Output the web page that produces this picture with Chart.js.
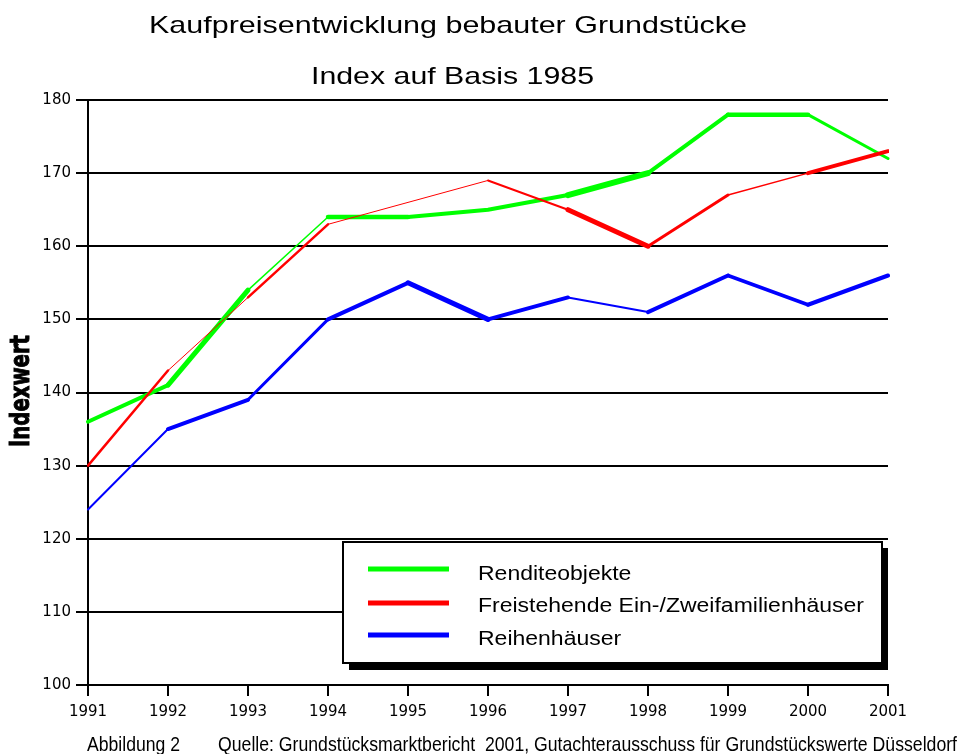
<!DOCTYPE html>
<html>
<head>
<meta charset="utf-8">
<script src="https://cdn.jsdelivr.net/npm/chart.js@4/dist/chart.umd.min.js"></script>
<style>
  html, body { margin: 0; padding: 0; background: #fff; }
  #wrap { width: 964px; height: 754px; position: relative; }
</style>
</head>
<body>
<div id="wrap"><canvas id="myChart"></canvas></div>
<script>
var years = ['1991','1992','1993','1994','1995','1996','1997','1998','1999','2000','2001'];
var rendite = [136, 141, 154, 164, 164, 165, 167, 170, 178, 178, 172];
var freistehend = [130, 143, 153, 163, 166, 169, 165, 160, 167, 170, 173];
var reihen = [124, 135, 139, 150, 155, 150, 153, 151, 156, 152, 156];
var seriesNames = ['Renditeobjekte', 'Freistehende Ein-/Zweifamilienhäuser', 'Reihenhäuser'];
var seriesColors = ['#00ff00', '#ff0000', '#0000ff'];

// line thickness of each segment (the original drawing is uneven)
var widthsGreen = [4, 5, 1.5, 4.5, 4, 4, 6, 4, 4.5, 3];
var widthsRed = [2.5, 1, 2.5, 1, 1, 2, 5, 3, 1.5, 4];
var widthsBlue = [2, 4, 3, 4, 5, 4, 2, 4, 3.5, 4];

function segWidth(arr) {
  return function (ctx) { return arr[ctx.p0DataIndex]; };
}

function fitText(ctx, text, x, y, w) {
  var m = ctx.measureText(text).width;
  ctx.save();
  ctx.translate(x, y);
  ctx.scale(w / m, 1);
  ctx.textAlign = 'left';
  ctx.fillText(text, 0, 0);
  ctx.restore();
}

var decor = {
  id: 'decor',
  afterDraw: function (chart) {
    var ctx = chart.ctx;
    ctx.save();
    ctx.fillStyle = '#000';
    ctx.textBaseline = 'alphabetic';

    // titles
    ctx.font = '24px "Liberation Sans", Arial, sans-serif';
    fitText(ctx, 'Kaufpreisentwicklung bebauter Grundstücke', 149, 33, 598);
    fitText(ctx, 'Index auf Basis 1985', 311, 84, 283);

    // y axis title
    ctx.save();
    ctx.translate(29, 447);
    ctx.rotate(-Math.PI / 2);
    ctx.font = 'bold 27px "DejaVu Sans", sans-serif';
    ctx.lineWidth = 1;
    ctx.strokeStyle = '#000';
    var t = 'Indexwert';
    var m = ctx.measureText(t).width;
    ctx.scale(112 / m, 1);
    ctx.fillText(t, 0, 0);
    ctx.strokeText(t, 0, 0);
    ctx.restore();

    // legend box with shadow
    ctx.fillStyle = '#000';
    ctx.fillRect(349, 548, 539, 122);
    ctx.fillStyle = '#fff';
    ctx.fillRect(343, 542, 539, 121);
    ctx.lineWidth = 2;
    ctx.strokeStyle = '#000';
    ctx.strokeRect(343, 542, 539, 121);

    ctx.font = '20px "Liberation Sans", Arial, sans-serif';
    var sc = 386 / ctx.measureText(seriesNames[1]).width;
    var rows = [569, 603, 635];
    var bases = [580, 612, 645];
    for (var i = 0; i < seriesNames.length; i++) {
      ctx.fillStyle = seriesColors[i];
      ctx.fillRect(368, rows[i] - 2.5, 81, 5);
      ctx.fillStyle = '#000';
      ctx.save();
      ctx.translate(478, bases[i]);
      ctx.scale(sc, 1);
      ctx.fillText(seriesNames[i], 0, 0);
      ctx.restore();
    }

    // footer
    ctx.font = '21px "Liberation Sans Narrow", "Liberation Sans", sans-serif';
    fitText(ctx, 'Abbildung 2', 87, 751, 93);
    fitText(ctx, 'Quelle: Grundstücksmarktbericht  2001, Gutachterausschuss für Grundstückswerte Düsseldorf', 218, 751, 739);
    ctx.restore();
  }
};

var ctx1 = document.getElementById('myChart').getContext('2d');
var myChart = new Chart(ctx1, {
  type: 'line',
  data: {
    labels: years,
    datasets: [
      { label: seriesNames[0], data: rendite, borderColor: seriesColors[0], pointRadius: 0,
        borderWidth: 4, segment: { borderWidth: segWidth(widthsGreen) }, tension: 0, order: 3,
        borderCapStyle: 'round', borderJoinStyle: 'round' },
      { label: seriesNames[1], data: freistehend, borderColor: seriesColors[1], pointRadius: 0,
        borderWidth: 2, segment: { borderWidth: segWidth(widthsRed) }, tension: 0, order: 2,
        borderCapStyle: 'round', borderJoinStyle: 'round' },
      { label: seriesNames[2], data: reihen, borderColor: seriesColors[2], pointRadius: 0,
        borderWidth: 4, segment: { borderWidth: segWidth(widthsBlue) }, tension: 0, order: 1,
        borderCapStyle: 'round', borderJoinStyle: 'round' }
    ]
  },
  options: {
    responsive: true,
    maintainAspectRatio: false,
    animation: false,
    layout: { padding: { top: 100, right: 76, left: 0, bottom: 0 } },
    plugins: { legend: { display: false }, title: { display: false }, tooltip: { enabled: false } },
    scales: {
      x: {
        offset: false,
        afterFit: function (s) { s.height = 69; },
        grid: { drawOnChartArea: false, color: '#000', lineWidth: 2, tickLength: 11 },
        border: { color: '#000', width: 2 },
        ticks: { color: '#000', font: { family: 'DejaVu Sans', size: 15 }, padding: 7, maxRotation: 0 }
      },
      y: {
        min: 100,
        max: 180,
        afterFit: function (s) { s.width = 88; },
        grid: { color: '#000', lineWidth: 2, tickLength: 12 },
        border: { color: '#000', width: 2 },
        ticks: { stepSize: 10, color: '#000', font: { family: 'DejaVu Sans', size: 15 }, padding: 5 }
      }
    }
  },
  plugins: [decor]
});
</script>
</body>
</html>
